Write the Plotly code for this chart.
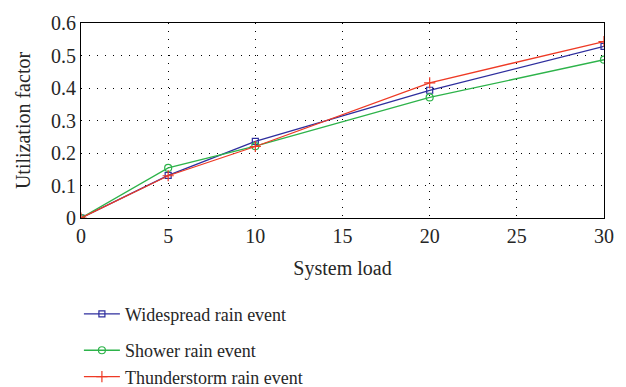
import plotly.graph_objects as go

# System load values and utilization factor per rain event type
system_load = [0, 5, 10, 20, 30]
widespread = [0.0, 0.131, 0.236, 0.393, 0.528]
shower = [0.0, 0.154, 0.221, 0.371, 0.487]
thunderstorm = [0.0, 0.130, 0.220, 0.416, 0.543]

x_ticks = [0, 5, 10, 15, 20, 25, 30]
y_ticks = [0, 0.1, 0.2, 0.3, 0.4, 0.5, 0.6]
y_tick_labels = ["0", "0.1", "0.2", "0.3", "0.4", "0.5", "0.6"]

FONT = "Liberation Serif, Times New Roman, serif"
TXT = "#262626"
FS = 20

fig = go.Figure()
fig.add_trace(go.Scatter(
    x=system_load, y=widespread, name="Widespread rain event",
    mode="lines+markers", legendgroup="a",
    line=dict(color="#2e2e9e", width=1.3),
    marker=dict(symbol="square-open", size=6, color="#2e2e9e", line=dict(width=1.2)),
))
fig.add_trace(go.Scatter(
    x=system_load, y=shower, name="Shower rain event",
    mode="lines+markers", legendgroup="b",
    line=dict(color="#2db34a", width=1.3),
    marker=dict(symbol="circle-open", size=7, color="#2db34a", line=dict(width=1.2)),
))
fig.add_trace(go.Scatter(
    x=system_load, y=thunderstorm, name="Thunderstorm rain event",
    mode="lines+markers", legendgroup="b",
    line=dict(color="#ee3a25", width=1.3),
    marker=dict(symbol="cross-thin-open", size=8, color="#ee3a25", line=dict(width=1.2, color="#ee3a25")),
))

axis_common = dict(
    showline=True, linecolor="black", linewidth=1.2, mirror=True,
    showgrid=True, gridcolor="black", gridwidth=1, griddash="1px,7px",
    zeroline=False, ticks="", tickfont=dict(family=FONT, size=FS, color=TXT),
)

fig.update_layout(
    width=626, height=387,
    margin=dict(l=81, r=22, t=14, b=169),
    paper_bgcolor="white", plot_bgcolor="white",
    font=dict(family=FONT, size=FS, color=TXT),
    xaxis=dict(range=[0, 30], tickvals=x_ticks,
               title=dict(text="System load", font=dict(family=FONT, size=FS, color=TXT), standoff=14),
               **axis_common),
    yaxis=dict(range=[0, 0.6], tickvals=y_ticks, ticktext=y_tick_labels,
               title=dict(text="Utilization factor", font=dict(family=FONT, size=FS, color=TXT), standoff=14),
               **axis_common),
    showlegend=True,
    legend=dict(x=-0.004, y=0.236, yref="container", xanchor="left", yanchor="top",
                bgcolor="rgba(0,0,0,0)", font=dict(family=FONT, size=18, color=TXT),
                tracegroupgap=10, itemwidth=36),
)

fig.write_html("out.html")
